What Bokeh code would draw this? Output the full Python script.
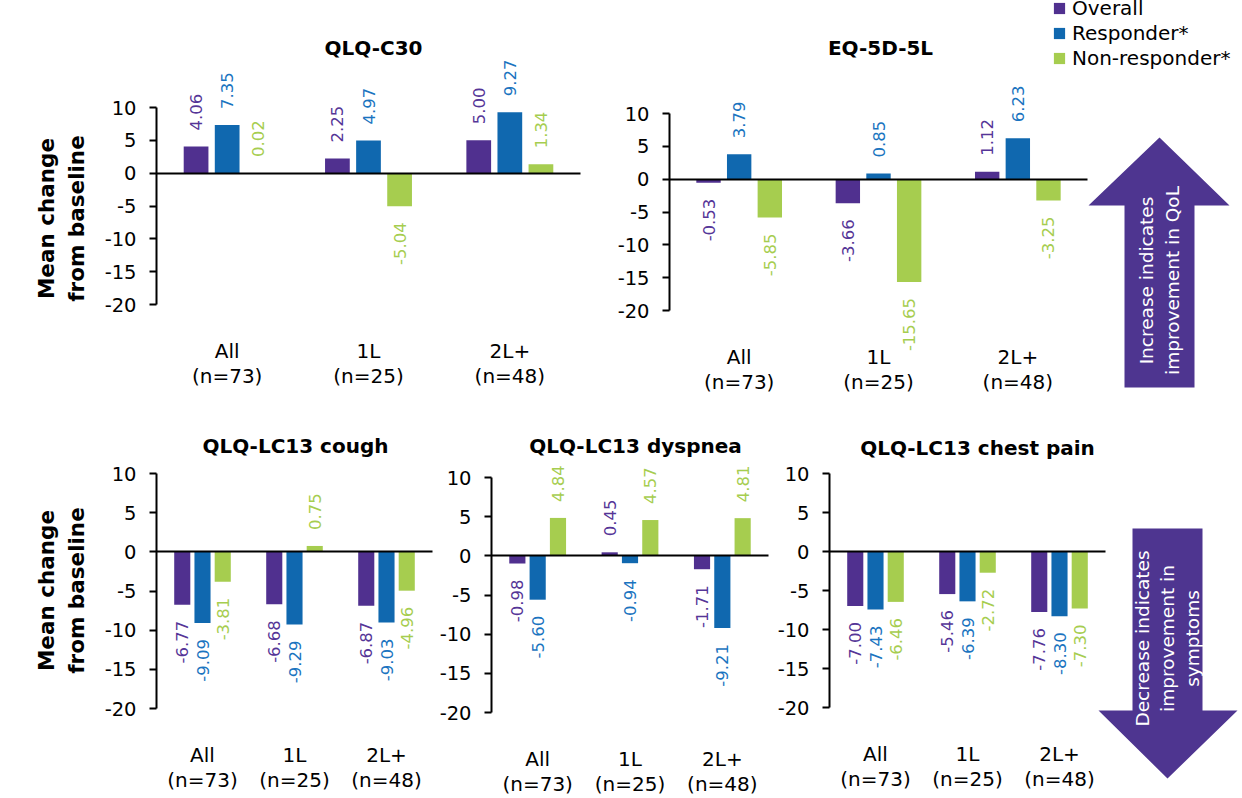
import math
from bokeh.plotting import figure
from bokeh.models import (Range1d, LinearAxis, FixedTicker, ColumnDataSource,
                          Legend, LegendItem)
from bokeh.core.properties import value
from bokeh.embed import file_html
from bokeh.resources import INLINE

# ---------------- data ----------------
groups = ["All\n(n=73)", "1L\n(n=25)", "2L+\n(n=48)"]
series = ["Overall", "Responder*", "Non-responder*"]
colors = ["#50308F", "#1068AF", "#A6CD4F"]
label_colors = ["#553597", "#1A74C0", "#A6CD4F"]
y_ticks = [-20, -15, -10, -5, 0, 5, 10]

titles = ["QLQ-C30", "EQ-5D-5L", "QLQ-LC13 cough", "QLQ-LC13 dyspnea",
          "QLQ-LC13 chest pain"]

c30_overall = [4.06, 2.25, 5.00]
c30_responder = [7.35, 4.97, 9.27]
c30_nonresp = [0.02, -5.04, 1.34]

eq_overall = [-0.53, -3.66, 1.12]
eq_responder = [3.79, 0.85, 6.23]
eq_nonresp = [-5.85, -15.65, -3.25]

cough_overall = [-6.77, -6.68, -6.87]
cough_responder = [-9.09, -9.29, -9.03]
cough_nonresp = [-3.81, 0.75, -4.96]

dysp_overall = [-0.98, 0.45, -1.71]
dysp_responder = [-5.60, -0.94, -9.21]
dysp_nonresp = [4.84, 4.57, 4.81]

chest_overall = [-7.00, -5.46, -7.76]
chest_responder = [-7.43, -6.39, -8.30]
chest_nonresp = [-6.46, -2.72, -7.30]

y_label = "Mean change\nfrom baseline"
up_text = "Increase indicates\nimprovement in QoL"
down_text = "Decrease indicates\nimprovement in\nsymptoms"

panel_data = [
    (c30_overall, c30_responder, c30_nonresp),
    (eq_overall, eq_responder, eq_nonresp),
    (cough_overall, cough_responder, cough_nonresp),
    (dysp_overall, dysp_responder, dysp_nonresp),
    (chest_overall, chest_responder, chest_nonresp),
]

# ---------------- layout (page pixels) ----------------
W, H = 1242, 798
ORG = 0
FONT = "DejaVu Sans"
# axis x, axis end x, y of 10, y of -20, title x, title y
boxes = [
    (156, 580, 107, 304, 373, 47),
    (669, 1087, 113, 310, 880, 47),
    (156, 432, 473, 708, 295, 445),
    (491, 768, 477, 712, 635, 445),
    (829, 1105, 473, 707, 977, 447),
]
dodge = [-0.22, 0.0, 0.22]
bar_w = 0.175
lab_gap = 16

p = figure(width=W, height=H, x_range=Range1d(ORG, ORG + W),
           y_range=Range1d(ORG + H, ORG),
           x_axis_type=None, y_axis_type=None, toolbar_location=None,
           output_backend="svg", min_border=0, outline_line_color=None)
p.grid.visible = False
p.background_fill_color = "white"

legend_renderers = []
for i, (data, box) in enumerate(zip(panel_data, boxes)):
    x0, x1, y10, y20, tx, ty = box
    sx = (x1 - x0) / 3.0
    xs = -(x0 - ORG) / sx
    sy = (y20 - y10) / 30.0
    ys = -20 - (ORG + H - y20) / sy
    xn, yn = f"x{i}", f"y{i}"
    p.extra_x_ranges[xn] = Range1d(xs, xs + W / sx)
    p.extra_y_ranges[yn] = Range1d(ys, ys + H / sy)

    for j, vals in enumerate(data):
        xpos = [k + 0.5 + dodge[j] for k in range(len(groups))]
        src = ColumnDataSource(dict(x=xpos, top=vals))
        r = p.vbar(x="x", top="top", bottom=0, width=bar_w, source=src,
                   x_range_name=xn, y_range_name=yn,
                   fill_color=colors[j], line_color=None)
        if i == 0:
            legend_renderers.append(r)
        off = lab_gap / sy
        pos = [(x, v) for x, v in zip(xpos, vals) if v >= 0]
        neg = [(x, v) for x, v in zip(xpos, vals) if v < 0]
        for subset, align, sgn in ((pos, "left", 1), (neg, "right", -1)):
            if not subset:
                continue
            p.text(x=[s[0] for s in subset], y=[s[1] + sgn * off for s in subset],
                   text=[f"{s[1]:.2f}" for s in subset], angle=math.pi / 2,
                   x_range_name=xn, y_range_name=yn,
                   text_font=value(FONT), text_font_size="16.5px",
                   text_color=label_colors[j], text_align=align,
                   text_baseline="middle")

    # y axis
    yax = LinearAxis(x_range_name=xn, y_range_name=yn, fixed_location=0,
                     bounds=(-20, 10), ticker=FixedTicker(ticks=y_ticks),
                     major_label_overrides={t: str(t) for t in y_ticks},
                     axis_line_width=2, major_tick_line_width=2,
                     major_tick_out=7, major_tick_in=0, minor_tick_line_color=None,
                     major_label_standoff=13,
                     major_label_text_font=FONT, major_label_text_font_size="19.5px",
                     major_label_text_color="black")
    p.add_layout(yax, "left")
    # zero line
    zax = LinearAxis(x_range_name=xn, y_range_name=yn, fixed_location=0,
                     bounds=(0, 3), ticker=FixedTicker(ticks=[]),
                     axis_line_width=2, major_tick_line_color=None,
                     minor_tick_line_color=None, major_label_text_font_size="0px")
    p.add_layout(zax, "below")
    # category labels
    cax = LinearAxis(x_range_name=xn, y_range_name=yn, fixed_location=-20,
                     bounds=(0, 3), ticker=FixedTicker(ticks=[0.5, 1.5, 2.5]),
                     major_label_overrides={k + 0.5: g for k, g in enumerate(groups)},
                     axis_line_color=None, major_tick_line_color=None,
                     minor_tick_line_color=None, major_tick_out=0, major_tick_in=0,
                     major_label_standoff=34,
                     major_label_text_font=FONT, major_label_text_font_size="20px",
                     major_label_text_line_height=1.07,
                     major_label_text_color="black")
    p.add_layout(cax, "below")

    # panel title
    p.text(x=[tx], y=[ty], text=[titles[i]], text_font=value(FONT),
           text_font_size="20px", text_font_style="bold",
           text_align="center", text_baseline="middle", text_color="black")

# y-axis titles
p.text(x=[61, 61], y=[218, 590], text=[y_label, y_label], angle=math.pi / 2,
       text_font=value(FONT), text_font_size="21.5px", text_font_style="bold",
       text_align="center", text_baseline="middle", text_line_height=1.2,
       text_color="black")

# arrows
arrow_col = "#4E3590"
p.patch(x=[1159, 1229, 1194, 1194, 1124, 1124, 1088],
        y=[137, 205, 205, 387, 387, 205, 205], fill_color=arrow_col, line_color=None)
p.patch(x=[1132, 1202, 1202, 1237, 1167, 1098, 1132],
        y=[528, 528, 710, 710, 778, 710, 710], fill_color=arrow_col, line_color=None)
p.text(x=[1159], y=[280], text=[up_text], angle=math.pi / 2,
       text_font=value(FONT), text_font_size="18.5px", text_color="white",
       text_align="center", text_baseline="middle", text_line_height=1.2)
p.text(x=[1167], y=[638], text=[down_text], angle=math.pi / 2,
       text_font=value(FONT), text_font_size="18.5px", text_color="white",
       text_align="center", text_baseline="middle", text_line_height=1.2)

legend = Legend(items=[LegendItem(label=s, renderers=[r])
                       for s, r in zip(series, legend_renderers)],
                location=(1052 - ORG, ORG + H - 70), orientation="vertical",
                glyph_width=14, glyph_height=14, label_standoff=6,
                label_text_font=FONT, label_text_font_size="20px",
                label_text_color="black",
                label_height=25, spacing=0, padding=0, margin=0,
                border_line_color=None, background_fill_alpha=0)
p.add_layout(legend)

open("out.html", "w").write(file_html(p, INLINE))
